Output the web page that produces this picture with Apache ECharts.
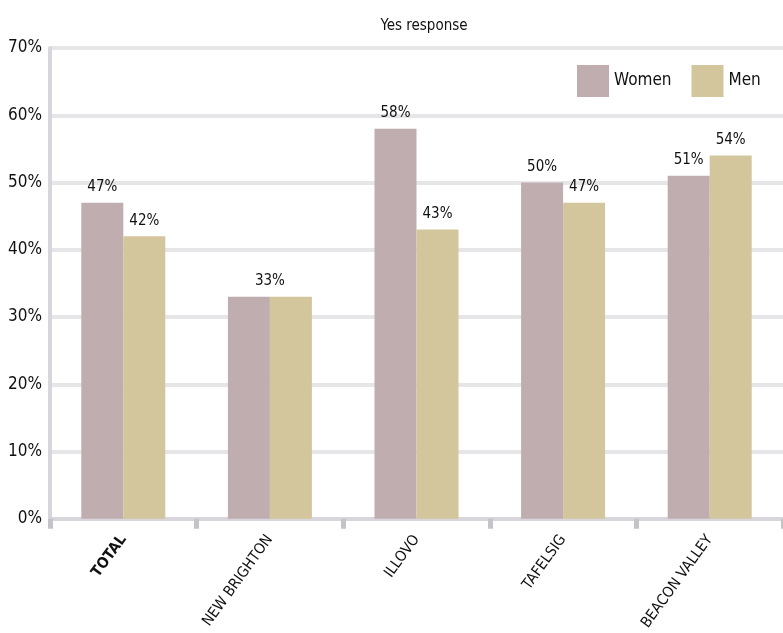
<!DOCTYPE html>
<html>
<head>
<meta charset="utf-8">
<script src="https://cdn.jsdelivr.net/npm/echarts@6/dist/echarts.min.js"></script>
<style>
  html, body { margin: 0; padding: 0; background: #fff; }
  #chart { width: 783px; height: 633px; }
</style>
</head>
<body>
<div id="chart"></div>
<script>
// Share of "yes" responses by area, split by gender (percent)
const categories = ['TOTAL', 'NEW BRIGHTON', 'ILLOVO', 'TAFELSIG', 'BEACON VALLEY'];
const women = [47, 33, 58, 50, 51];
const men = [42, 33, 43, 47, 54];
const yTicks = { min: 0, max: 70, step: 10 };

const FONT = '"Liberation Sans Narrow", "DejaVu Sans Condensed", sans-serif';
const WOMEN_COLOR = '#bfadb0';
const MEN_COLOR = '#d3c59c';
const BAR_W = 42;

// Where both bars share a value, a single label is centred over the pair
function withLabels(values, other, isFirst) {
  return values.map((v, i) => {
    if (v === other[i]) {
      return isFirst
        ? { value: v, label: { offset: [BAR_W / 2, 0] } }
        : { value: v, label: { show: false } };
    }
    return v;
  });
}

const chart = echarts.init(document.getElementById('chart'));
chart.setOption({
  animation: false,
  backgroundColor: '#fff',
  textStyle: { fontFamily: FONT },
  title: {
    text: 'Yes response',
    left: 419,
    top: 14,
    textAlign: 'center',
    textStyle: { fontFamily: FONT, fontSize: 15, fontWeight: 'normal', color: '#111' }
  },
  legend: {
    orient: 'horizontal',
    left: 572,
    top: 60,
    width: 300,
    itemWidth: 32,
    itemHeight: 32,
    itemGap: 20,
    icon: 'rect',
    textStyle: { fontFamily: FONT, fontSize: 17, color: '#111' },
    data: ['Women', 'Men']
  },
  grid: { left: 50, top: 48, width: 738, height: 476, containLabel: false },
  xAxis: {
    type: 'category',
    data: categories.map((c, i) => i === 0 ? { value: c, textStyle: { fontWeight: 'bold' } } : c),
    axisLine: { show: true, lineStyle: { color: '#d8d6dc', width: 4 } },
    axisTick: { show: true, length: 10, lineStyle: { color: '#c4c4c8', width: 5 } },
    axisLabel: {
      rotate: 54,
      margin: 18,
      fontFamily: FONT,
      fontSize: 15,
      color: '#111'
    },
    splitLine: { show: false }
  },
  yAxis: {
    type: 'value',
    min: yTicks.min,
    max: yTicks.max,
    interval: yTicks.step,
    axisLine: { show: true, lineStyle: { color: '#d8d6dc', width: 4 } },
    axisTick: { show: false },
    axisLabel: {
      formatter: '{value}%',
      fontFamily: FONT,
      fontSize: 17,
      color: '#111',
      margin: 8
    },
    splitLine: { show: true, lineStyle: { color: '#e6e6e8', width: 4 } }
  },
  series: [
    {
      name: 'Women',
      type: 'bar',
      barWidth: BAR_W,
      barGap: '0%',
      itemStyle: { color: WOMEN_COLOR },
      label: {
        show: true,
        position: 'top',
        distance: 8,
        formatter: '{c}%',
        fontFamily: FONT,
        fontSize: 15,
        color: '#111'
      },
      data: withLabels(women, men, true)
    },
    {
      name: 'Men',
      type: 'bar',
      barWidth: BAR_W,
      barGap: '0%',
      itemStyle: { color: MEN_COLOR },
      label: {
        show: true,
        position: 'top',
        distance: 8,
        formatter: '{c}%',
        fontFamily: FONT,
        fontSize: 15,
        color: '#111'
      },
      data: withLabels(men, women, false)
    }
  ]
});
</script>
</body>
</html>
